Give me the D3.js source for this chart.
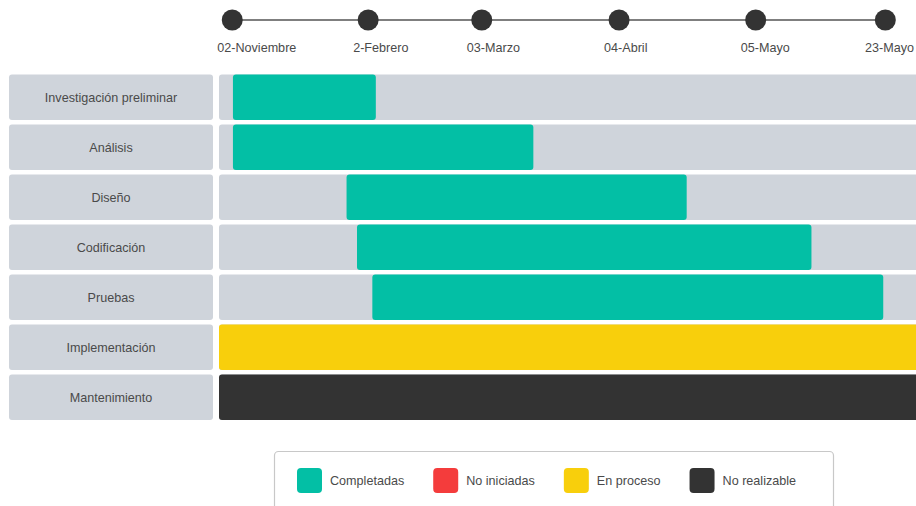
<!DOCTYPE html>
<html lang="es">
<head>
<meta charset="utf-8">
<title>Cronograma</title>
<style>
  body { margin: 0; background: #fff; }
  svg { display: block; font-family: "Liberation Sans", Arial, sans-serif; }
</style>
</head>
<body>
<div id="chart"></div>
<script src="https://cdn.jsdelivr.net/npm/d3@7"></script>
<script>
// hitos de la linea de tiempo (posicion en % del cronograma)
var hitos = ["02-Noviembre", "2-Febrero", "03-Marzo", "04-Abril", "05-Mayo", "23-Mayo"];
var hitosPos = [1.9, 21.4, 37.7, 57.4, 77.0, 95.6];

// tareas
var tareas = ["Investigación preliminar", "Análisis", "Diseño", "Codificación", "Pruebas", "Implementación", "Mantenimiento"];
var inicio = [2.0, 2.0, 18.3, 19.8, 22.0, 0, 0];
var fin = [22.5, 45.1, 67.1, 85.0, 95.3, 100, 100];
var estado = ["Completadas", "Completadas", "Completadas", "Completadas", "Completadas", "En proceso", "No realizable"];

// leyenda
var estados = ["Completadas", "No iniciadas", "En proceso", "No realizable"];
var colores = ["#03bfa5", "#f43c3c", "#f8cf0c", "#333333"];

var width = 916, height = 506, fs = 12.6;

var svg = d3.select("#chart").append("svg")
    .attr("width", width)
    .attr("height", height);

var color = d3.scaleOrdinal().domain(estados).range(colores);

var x = d3.scaleLinear().domain([0, 100]).range([219, 916]);

var y = d3.scaleBand()
    .domain(tareas)
    .range([74.5, 420])
    .paddingInner(0.09)
    .paddingOuter(0);

// --- linea de tiempo ---
var tl = svg.append("g").attr("class", "timeline");

tl.append("line")
    .attr("x1", x(hitosPos[0]))
    .attr("x2", x(hitosPos[hitosPos.length - 1]))
    .attr("y1", 20).attr("y2", 20)
    .attr("stroke", "#555").attr("stroke-width", 1.6);

tl.selectAll("circle")
    .data(hitosPos)
  .enter().append("circle")
    .attr("cx", d => x(d))
    .attr("cy", 20)
    .attr("r", 10.5)
    .attr("fill", "#333");

// etiquetas alineadas a la izquierda del hito, sin salir del lienzo
tl.selectAll("text")
    .data(hitos)
  .enter().append("text")
    .attr("y", 52)
    .attr("font-size", fs)
    .attr("fill", "#4a4a4a")
    .text(d => d)
    .attr("x", function(d, i) {
      var w = this.getComputedTextLength();
      return Math.min(x(hitosPos[i]) - 15, width - 2 - w);
    });

// --- filas ---
var fila = svg.append("g").selectAll("g")
    .data(tareas)
  .enter().append("g");

fila.append("rect")
    .attr("x", 9)
    .attr("y", d => y(d))
    .attr("width", 204)
    .attr("height", y.bandwidth())
    .attr("rx", 3)
    .attr("fill", "#cfd4db");

fila.append("text")
    .attr("x", 111)
    .attr("y", d => y(d) + y.bandwidth() / 2 + 4.5)
    .attr("text-anchor", "middle")
    .attr("font-size", fs)
    .attr("fill", "#4a4a4a")
    .text(d => d);

fila.append("rect")
    .attr("x", x(0))
    .attr("y", d => y(d))
    .attr("width", x(100) - x(0) + 6)
    .attr("height", y.bandwidth())
    .attr("rx", 3)
    .attr("fill", "#cfd4db");

fila.append("rect")
    .attr("x", (d, i) => x(inicio[i]))
    .attr("y", d => y(d))
    .attr("width", (d, i) => x(fin[i]) - x(inicio[i]) + (fin[i] >= 100 ? 6 : 0))
    .attr("height", y.bandwidth())
    .attr("rx", 3)
    .attr("fill", (d, i) => color(estado[i]));

// --- leyenda ---
var ley = svg.append("g");

ley.append("rect")
    .attr("x", 274.5).attr("y", 451.5)
    .attr("width", 559).attr("height", 80)
    .attr("rx", 4)
    .attr("fill", "#fff")
    .attr("stroke", "#c8c8c8")
    .attr("stroke-width", 1.2);

var px = 297;
estados.forEach(function(e) {
  ley.append("rect")
      .attr("x", px).attr("y", 468)
      .attr("width", 25).attr("height", 25)
      .attr("rx", 4)
      .attr("fill", color(e));
  var t = ley.append("text")
      .attr("x", px + 33).attr("y", 485)
      .attr("font-size", fs)
      .attr("fill", "#4a4a4a")
      .text(e);
  px += 33 + t.node().getComputedTextLength() + 29;
});
</script>
</body>
</html>
